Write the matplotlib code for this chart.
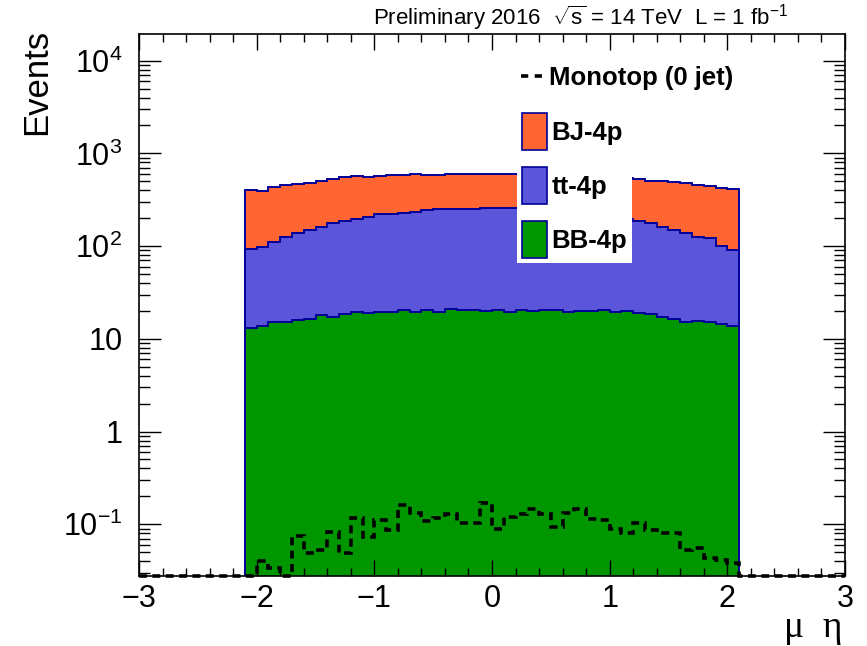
import numpy as np
import matplotlib
matplotlib.use('Agg')
import matplotlib.pyplot as plt
from matplotlib.ticker import LogLocator, NullFormatter, FuncFormatter, MultipleLocator
from matplotlib.lines import Line2D
from matplotlib.patches import Patch

plt.rcParams['font.family'] = ['Liberation Sans', 'DejaVu Sans']
plt.rcParams['mathtext.fontset'] = 'custom'
plt.rcParams['mathtext.rm'] = 'Liberation Sans'
plt.rcParams['mathtext.it'] = 'Liberation Sans:italic'
plt.rcParams['mathtext.bf'] = 'Liberation Sans:bold'

# muon eta, 42 bins of 0.1 between -2.1 and 2.1
eta_lo, eta_hi, n_bins = -2.1, 2.1, 42

bb_4p = [13.2, 13.8, 15.3, 15.1, 16.0, 16.5, 17.9, 17.3, 18.4, 19.5, 19.1, 19.5, 19.6, 20.5,
         19.6, 20.5, 19.5, 21.1, 20.6, 20.3, 20.1, 20.3, 19.6, 20.5, 20.1, 20.5, 20.5, 19.6,
         19.9, 19.9, 20.5, 19.6, 19.9, 18.8, 18.5, 17.3, 16.2, 15.3, 15.6, 15.1, 14.5, 13.8]
tt_4p = [79, 85, 96, 111, 121, 132, 144, 159, 169, 178, 189, 200, 202, 206,
         215, 224, 232, 232, 232, 233, 236, 240, 236, 235, 234, 230, 223, 216,
         208, 202, 198, 187, 177, 169, 158, 145, 133, 122, 110, 106, 86, 78]
bj_4p = [311, 294, 327, 327, 331, 331, 342, 357, 365, 372, 348, 354, 362, 358,
         360, 339, 333, 347, 347, 347, 344, 340, 344, 344, 346, 348, 348, 352,
         356, 356, 352, 353, 351, 342, 332, 346, 347, 339, 330, 324, 327, 318]
monotop = [0, 0.0405, 0.0335, 0, 0.075, 0.049, 0.053, 0.083, 0.049, 0.118, 0.073, 0.111, 0.087, 0.161,
           0.131, 0.109, 0.116, 0.129, 0.103, 0.103, 0.171, 0.088, 0.121, 0.128, 0.145, 0.129, 0.094, 0.133,
           0.145, 0.114, 0.111, 0.088, 0.081, 0.103, 0.087, 0.081, 0.080, 0.053, 0.056, 0.043, 0.041, 0.038]

ymin, ymax = 0.0277, 1.94e4

edges = np.linspace(eta_lo, eta_hi, n_bins + 1)
s_bb = np.array(bb_4p)
s_tt = s_bb + np.array(tt_4p)
s_bj = s_tt + np.array(bj_4p)

# monotop histogram covers the full -3..3 range, empty outside the tracker
n_pad = 9
edges_full = np.linspace(-3, 3, n_bins + 2 * n_pad + 1)
mono_full = np.concatenate([np.zeros(n_pad), monotop, np.zeros(n_pad)])
mono_full = np.maximum(mono_full, ymin)

c_bj, c_tt, c_bb, c_edge = '#ff6633', '#5a55d9', '#009600', '#000099'

fig = plt.figure(figsize=(8.67, 6.46), dpi=100)
ax = fig.add_axes([139/867, 1-576/646, 706/867, 542/646])
ax.set_yscale('log')

ax.stairs(s_bj, edges, baseline=1e-3, fill=True, facecolor=c_bj, edgecolor=c_edge, lw=1.2)
ax.stairs(s_bj, edges, baseline=1e-3, color=c_edge, lw=1.2)
ax.stairs(s_tt, edges, baseline=1e-3, fill=True, facecolor=c_tt, edgecolor=c_edge, lw=1.2)
ax.stairs(s_tt, edges, baseline=1e-3, color=c_edge, lw=1.2)
ax.stairs(s_bb, edges, baseline=1e-3, fill=True, facecolor=c_bb, edgecolor=c_edge, lw=1.2)
ax.stairs(s_bb, edges, baseline=1e-3, color=c_edge, lw=1.2)
ax.stairs(mono_full, edges_full, baseline=None, color='black', lw=2.6,
          ls=(0, (2.2, 1.5)), clip_on=False, zorder=4)

ax.set_xlim(-3, 3)
ax.set_ylim(ymin, ymax)

ax.xaxis.set_major_locator(MultipleLocator(1))
ax.xaxis.set_minor_locator(MultipleLocator(0.2))
ax.yaxis.set_major_locator(LogLocator(base=10, numticks=20))
ax.yaxis.set_minor_locator(LogLocator(base=10, subs=np.arange(2, 10), numticks=100))
ax.yaxis.set_minor_formatter(NullFormatter())


def yfmt(v, pos):
    e = int(round(np.log10(v)))
    if e == 0:
        return '1'
    if e == 1:
        return '10'
    return '$10^{%d}$' % e


ax.yaxis.set_major_formatter(FuncFormatter(yfmt))

ax.tick_params(which='both', direction='in', top=True, right=True, width=1.0)
ax.tick_params(axis='x', which='major', length=11.5, labelsize=22, pad=6)
ax.tick_params(axis='x', which='minor', length=5.8)
ax.tick_params(axis='y', which='major', length=16, labelsize=22, pad=12)
ax.tick_params(axis='y', which='minor', length=8)
for sp in ax.spines.values():
    sp.set_linewidth(1.2)

# legend: dashed entry without box, filled entries on a white box
leg_font = {'weight': 'bold', 'size': 18.5}
leg1 = ax.legend(handles=[Line2D([], [], color='black', lw=2.6, ls=(0, (2.0, 1.8)))],
                 labels=['Monotop (0 jet)'], loc='center left',
                 bbox_to_anchor=(521/867, 1-78/646), bbox_transform=fig.transFigure,
                 frameon=False, borderpad=0, borderaxespad=0, handlelength=0.95,
                 handletextpad=0.15, prop=leg_font)
ax.add_artist(leg1)
ax.legend(handles=[Patch(facecolor=c_bj, edgecolor=c_edge, lw=1.2),
                   Patch(facecolor=c_tt, edgecolor=c_edge, lw=1.2),
                   Patch(facecolor=c_bb, edgecolor=c_edge, lw=1.2)],
          labels=['BJ-4p', 'tt-4p', 'BB-4p'], loc='upper left',
          bbox_to_anchor=(517/867, 1-108/646), bbox_transform=fig.transFigure,
          frameon=True, fancybox=False, facecolor='white', edgecolor='none', framealpha=1,
          borderpad=0.2, borderaxespad=0, handlelength=0.95, handleheight=1.84,
          labelspacing=0.66, handletextpad=0.2, prop=leg_font)

fig.text(373/867, 1-25/646, 'Preliminary 2016  $\\sqrt{\\mathrm{s}}$ = 14 TeV  L = 1 fb$^{-1}$',
         ha='left', va='baseline', fontsize=16)
fig.text(37/867, 1-29/646, 'Events', rotation=90, ha='center', va='top', fontsize=25)
fig.text(843/867, 1-637/646, 'μ  η', ha='right', va='baseline',
         family=['Liberation Serif', 'DejaVu Serif'], fontsize=27)

fig.savefig('out.png', dpi=100)
